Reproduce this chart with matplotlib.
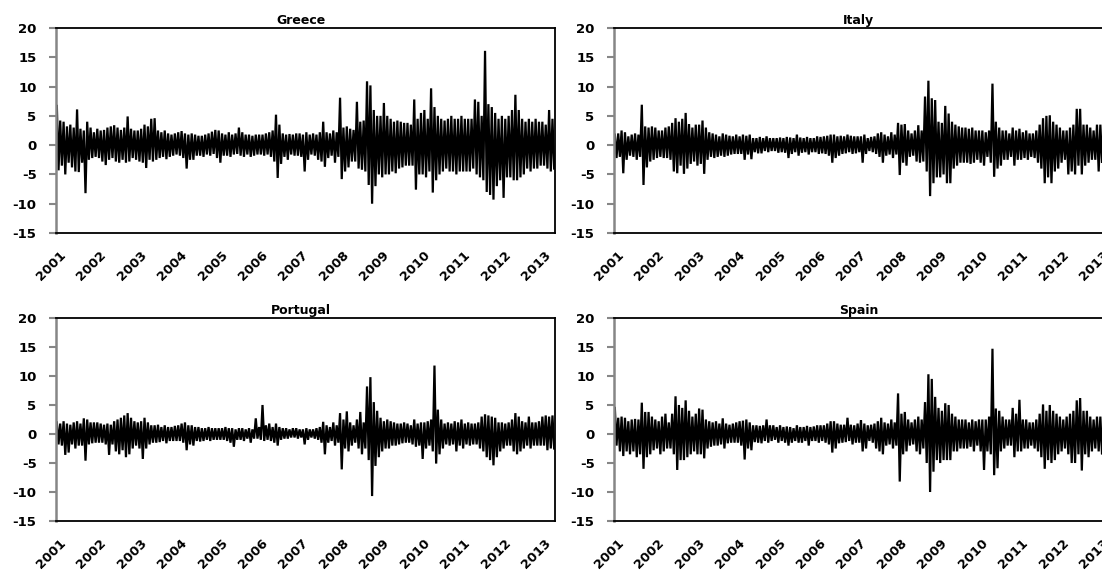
import numpy as np
import matplotlib
matplotlib.use('Agg')
import matplotlib.pyplot as plt
from matplotlib.transforms import ScaledTranslation

# monthly high / low of the daily returns, Jan 2001 .. Apr 2013
start_year = 2001
year_ticks = list(range(2001, 2014))
countries = ['Greece', 'Italy', 'Portugal', 'Spain']

greece_hi = [
    6.7, 4.2, 4.0, 3.2, 3.5, 3.0, 6.1, 2.8, 2.5, 4.0, 3.0, 2.2,   # 2001
    2.8, 2.5, 2.6, 3.0, 3.2, 3.4, 3.0, 2.6, 3.0, 4.9, 2.8, 2.5,   # 2002
    2.5, 2.8, 3.5, 3.2, 4.5, 4.6, 2.5, 2.2, 2.5, 2.0, 1.8, 2.0,   # 2003
    2.2, 2.4, 2.0, 1.8, 2.0, 1.8, 1.6, 1.6, 1.8, 2.0, 2.3, 2.6,   # 2004
    2.5, 2.0, 1.8, 2.2, 1.8, 2.0, 3.0, 2.2, 1.8, 1.8, 1.6, 1.8,   # 2005
    1.8, 1.8, 2.0, 2.2, 2.5, 5.2, 3.5, 2.0, 1.8, 1.9, 1.8, 2.0,   # 2006
    2.0, 1.8, 2.2, 1.8, 2.0, 1.8, 2.2, 4.0, 2.2, 2.0, 2.5, 2.2,   # 2007
    8.1, 3.0, 3.2, 2.8, 2.6, 7.4, 4.0, 4.2, 10.9, 10.2, 6.0, 5.0, # 2008
    5.0, 7.2, 5.0, 4.5, 4.0, 4.2, 4.0, 3.8, 3.8, 3.5, 7.8, 4.5,   # 2009
    5.5, 6.0, 4.5, 9.7, 6.5, 5.0, 4.5, 4.2, 4.5, 5.0, 4.5, 4.5,   # 2010
    5.0, 4.5, 4.5, 4.5, 7.8, 7.4, 5.0, 16.1, 7.0, 6.5, 5.5, 4.5,  # 2011
    5.0, 4.5, 5.0, 6.0, 8.6, 6.0, 4.5, 4.0, 4.5, 4.0, 4.5, 4.0,   # 2012
    4.0, 3.5, 6.0, 4.5,                                           # 2013
]
greece_lo = [
    -4.3, -3.5, -5.0, -3.0, -3.8, -4.5, -4.6, -3.0, -8.2, -2.5, -2.2, -2.0,
    -2.2, -2.8, -3.4, -2.5, -2.2, -2.8, -3.0, -2.5, -3.0, -2.8, -2.2, -2.5,
    -2.8, -3.0, -3.9, -2.5, -2.8, -2.5, -2.2, -2.0, -2.4, -2.0, -1.8, -1.6,
    -1.8, -2.2, -4.0, -2.5, -2.5, -1.8, -1.8, -2.0, -1.6, -1.8, -1.5, -2.2,
    -3.0, -1.8, -1.8, -2.0, -1.6, -1.5, -1.8, -2.0, -1.6, -2.0, -1.8, -1.6,
    -1.6, -1.8, -1.6, -2.0, -2.8, -5.6, -3.2, -2.0, -2.5, -1.6, -1.8, -1.8,
    -2.0, -4.5, -2.5, -1.6, -1.8, -2.5, -2.8, -3.7, -2.2, -1.8, -3.0, -2.0,
    -5.8, -4.5, -3.8, -2.8, -2.8, -4.0, -4.2, -4.5, -6.8, -10.0, -7.0, -5.0,
    -5.5, -5.0, -5.0, -4.5, -4.8, -4.0, -3.8, -3.5, -3.5, -3.5, -7.6, -5.0,
    -5.0, -5.5, -4.5, -8.1, -6.0, -5.0, -4.5, -4.0, -4.5, -4.5, -5.0, -4.5,
    -4.5, -4.5, -4.5, -4.0, -5.0, -5.5, -6.0, -8.0, -8.5, -9.3, -7.0, -6.0,
    -9.0, -5.5, -5.5, -6.0, -6.0, -5.5, -5.0, -4.0, -4.5, -4.0, -4.0, -3.5,
    -3.5, -4.0, -4.5, -4.0,
]

italy_hi = [
    1.8, 2.0, 2.5, 2.2, 1.5, 1.8, 2.0, 1.8, 6.9, 3.2, 3.0, 3.2,
    3.0, 2.5, 2.5, 3.0, 3.2, 3.8, 4.6, 4.0, 4.5, 5.5, 3.6, 3.0,
    3.5, 3.5, 4.2, 3.0, 2.2, 2.0, 1.8, 1.5, 2.0, 1.8, 1.6, 1.5,
    1.8, 1.5, 1.8, 1.6, 1.8, 1.2, 1.2, 1.4, 1.2, 1.5, 1.2, 1.2,
    1.2, 1.3, 1.2, 1.4, 1.3, 1.2, 1.8, 1.3, 1.2, 1.4, 1.2, 1.2,
    1.5, 1.4, 1.5, 1.6, 1.8, 1.8, 1.5, 1.6, 1.5, 1.8, 1.6, 1.5,
    1.5, 1.5, 1.8, 1.2, 1.4, 1.5, 2.0, 2.2, 1.8, 1.5, 2.2, 1.8,
    3.8, 3.5, 3.6, 2.5, 2.0, 2.5, 3.4, 2.5, 8.3, 11.0, 8.0, 7.7,
    4.0, 3.8, 6.7, 5.4, 4.0, 3.5, 3.2, 3.0, 3.0, 2.8, 3.0, 2.5,
    2.5, 2.5, 2.2, 2.5, 10.5, 4.0, 3.0, 2.5, 2.5, 2.0, 3.0, 2.5,
    2.8, 2.2, 2.5, 2.0, 2.0, 2.5, 3.5, 4.6, 5.0, 5.1, 4.0, 3.5,
    3.0, 2.5, 2.5, 3.0, 3.5, 6.2, 6.2, 3.5, 3.5, 3.0, 2.5, 3.5,
    3.5, 3.0, 3.0, 2.5,
]
italy_lo = [
    -2.2, -2.0, -4.8, -2.5, -1.8, -2.0, -2.5, -2.0, -6.8, -3.8, -2.8, -2.5,
    -2.2, -2.0, -2.2, -2.2, -2.5, -4.5, -4.8, -3.5, -4.9, -4.0, -3.2, -2.8,
    -3.5, -3.2, -4.9, -2.5, -2.0, -2.2, -2.0, -1.8, -2.0, -1.8, -1.6, -1.5,
    -1.5, -1.5, -2.5, -1.6, -2.4, -1.2, -1.4, -1.4, -1.0, -1.2, -1.0, -1.0,
    -1.3, -1.2, -1.3, -2.2, -1.5, -1.2, -1.8, -1.3, -1.2, -1.6, -1.2, -1.2,
    -1.5, -1.4, -1.5, -1.8, -3.0, -2.2, -1.8, -1.5, -1.4, -1.2, -1.5, -1.4,
    -1.2, -3.0, -1.5, -1.0, -1.2, -1.5, -2.0, -3.0, -1.8, -1.6, -2.2, -1.6,
    -5.1, -3.0, -3.5, -2.0, -1.8, -2.8, -3.0, -2.8, -4.5, -8.7, -6.5, -5.5,
    -5.5, -5.0, -6.5, -6.5, -4.0, -3.5, -3.0, -3.0, -3.0, -3.2, -3.0, -2.5,
    -3.0, -3.5, -2.0, -3.0, -5.4, -4.0, -3.5, -2.5, -2.5, -2.0, -3.5, -2.5,
    -2.5, -2.2, -2.5, -2.0, -2.2, -3.0, -4.0, -6.5, -5.5, -6.5, -4.5, -4.0,
    -3.0, -2.5, -5.0, -4.5, -5.0, -3.5, -5.0, -3.5, -3.0, -2.5, -2.5, -4.5,
    -3.0, -4.0, -3.0, -2.5,
]

portugal_hi = [
    2.0, 1.8, 2.2, 1.8, 1.6, 2.0, 2.2, 1.8, 2.7, 2.5, 2.0, 2.0,
    2.0, 1.8, 1.6, 1.8, 1.6, 2.2, 2.5, 2.8, 3.2, 3.6, 2.8, 2.2,
    2.0, 2.2, 2.8, 2.0, 1.5, 1.5, 1.6, 1.2, 1.5, 1.2, 1.2, 1.4,
    1.5, 1.8, 2.0, 1.5, 1.5, 1.2, 1.2, 1.0, 1.0, 1.2, 1.0, 1.0,
    1.0, 1.0, 1.2, 1.0, 1.0, 0.8, 1.0, 1.0, 0.8, 1.0, 0.8, 2.7,
    1.2, 5.0, 1.5, 1.8, 1.2, 1.8, 1.2, 1.0, 1.0, 0.8, 1.0, 1.0,
    0.8, 0.8, 1.0, 0.8, 0.8, 1.0, 1.2, 2.1, 1.5, 1.2, 2.0, 1.5,
    3.6, 2.5, 3.9, 2.0, 1.5, 2.5, 3.8, 2.0, 8.2, 9.8, 5.5, 4.0,
    2.8, 2.2, 2.5, 2.2, 2.0, 1.8, 1.8, 2.0, 1.8, 1.5, 2.5, 1.8,
    2.0, 2.0, 2.2, 2.5, 11.8, 4.2, 2.5, 1.8, 2.0, 1.8, 2.2, 2.0,
    2.5, 1.8, 2.0, 1.8, 1.8, 2.0, 3.0, 3.4, 3.2, 3.0, 2.8, 2.0,
    2.0, 1.8, 2.0, 2.5, 3.6, 3.0, 2.2, 2.0, 3.0, 2.0, 2.0, 2.2,
    3.0, 3.2, 3.0, 3.2,
]
portugal_lo = [
    -1.8, -2.0, -3.6, -3.2, -1.8, -2.5, -2.0, -2.0, -4.6, -1.8, -1.6, -1.5,
    -1.5, -1.5, -1.8, -3.6, -1.8, -3.0, -3.5, -2.8, -4.0, -3.5, -2.5, -2.0,
    -2.5, -4.3, -2.5, -1.8, -1.5, -1.5, -1.4, -1.2, -1.6, -1.2, -1.2, -1.2,
    -1.2, -1.5, -2.8, -1.8, -2.0, -1.2, -1.3, -1.2, -1.0, -1.2, -1.0, -1.0,
    -1.0, -1.0, -1.2, -1.5, -2.2, -1.0, -1.0, -1.2, -0.8, -1.5, -0.8, -0.8,
    -1.0, -1.2, -1.0, -1.2, -1.5, -2.0, -1.0, -0.8, -0.8, -0.6, -0.6, -0.8,
    -0.6, -1.8, -1.0, -0.6, -0.8, -1.0, -1.5, -3.5, -1.5, -1.2, -2.0, -1.5,
    -6.1, -2.5, -3.0, -2.0, -1.5, -2.5, -3.5, -2.5, -4.5, -10.7, -5.5, -4.0,
    -3.0, -2.5, -2.5, -2.0, -2.0, -1.8, -1.6, -1.5, -1.5, -1.8, -2.2, -2.0,
    -4.3, -2.5, -2.0, -3.0, -5.1, -3.5, -2.5, -1.8, -2.0, -1.8, -3.0, -2.0,
    -2.5, -1.8, -2.0, -1.8, -1.8, -2.5, -3.0, -4.0, -4.5, -5.4, -4.0, -3.0,
    -2.5, -2.0, -2.0, -3.0, -3.5, -3.0, -2.5, -2.0, -2.5, -2.0, -2.0, -2.0,
    -2.0, -2.8, -2.5, -2.5,
]

spain_hi = [
    4.5, 2.8, 3.0, 2.8, 2.2, 2.5, 2.6, 2.5, 5.4, 3.8, 3.8, 3.0,
    2.5, 2.2, 3.0, 3.5, 2.0, 3.5, 6.5, 5.0, 4.5, 5.8, 4.0, 3.0,
    3.5, 4.4, 4.2, 2.5, 2.2, 2.0, 2.2, 1.8, 2.7, 1.8, 1.6, 1.8,
    2.0, 2.2, 2.3, 2.5, 2.0, 1.5, 1.5, 1.4, 1.5, 2.5, 1.5, 1.5,
    1.2, 1.5, 1.2, 1.3, 1.2, 1.0, 1.5, 1.2, 1.2, 1.4, 1.2, 1.3,
    1.5, 1.5, 1.5, 1.8, 2.2, 2.2, 1.8, 1.6, 1.6, 2.8, 1.6, 1.5,
    1.8, 2.4, 1.8, 1.5, 1.6, 1.8, 2.2, 2.8, 2.0, 1.8, 2.5, 2.0,
    7.0, 3.5, 3.8, 2.5, 2.0, 2.5, 3.0, 2.5, 5.5, 10.3, 9.5, 6.4,
    4.5, 4.0, 5.3, 5.0, 3.5, 3.0, 2.5, 2.5, 2.5, 2.0, 2.5, 2.2,
    2.5, 2.5, 2.5, 3.0, 14.7, 4.4, 4.0, 3.0, 2.5, 2.5, 4.5, 3.5,
    5.9, 2.5, 2.5, 2.0, 2.0, 2.5, 3.5, 5.1, 4.0, 5.0, 4.0, 3.5,
    3.0, 2.5, 3.0, 3.5, 4.0, 5.8, 6.2, 4.0, 4.0, 3.0, 2.5, 3.0,
    3.0, 3.5, 3.0, 2.5,
]
spain_lo = [
    -2.0, -3.0, -3.8, -3.0, -3.5, -3.0, -4.0, -3.5, -6.0, -4.0, -3.5, -2.8,
    -2.5, -3.5, -3.0, -2.5, -2.5, -3.5, -6.2, -4.5, -4.5, -4.0, -3.5, -3.0,
    -3.5, -3.5, -4.2, -2.5, -2.2, -2.0, -2.0, -1.8, -2.5, -1.6, -1.5, -1.5,
    -1.5, -2.0, -4.4, -2.5, -2.8, -1.4, -1.5, -1.6, -1.2, -1.5, -1.2, -1.0,
    -1.5, -1.2, -1.5, -2.0, -1.5, -1.2, -1.5, -1.5, -1.2, -2.0, -1.2, -1.2,
    -1.5, -1.2, -1.5, -1.8, -3.2, -2.5, -1.6, -1.5, -1.4, -1.2, -1.8, -1.5,
    -1.5, -3.0, -2.5, -1.2, -1.5, -2.5, -3.0, -3.5, -2.0, -1.8, -2.5, -2.0,
    -8.2, -3.5, -3.0, -2.0, -1.8, -3.0, -3.5, -2.5, -5.0, -10.0, -6.5, -4.5,
    -5.0, -4.5, -4.5, -4.5, -3.0, -3.0, -2.5, -2.5, -2.5, -2.2, -3.0, -2.0,
    -3.0, -6.2, -3.0, -3.5, -7.1, -5.9, -3.0, -2.5, -2.0, -2.0, -4.0, -3.0,
    -3.0, -2.5, -2.5, -2.0, -2.5, -3.0, -4.0, -6.0, -4.5, -5.0, -4.5, -3.5,
    -3.0, -2.5, -3.5, -5.0, -5.0, -3.5, -6.3, -3.5, -4.0, -3.0, -2.5, -3.0,
    -3.5, -4.0, -3.0, -2.5,
]

highs = [greece_hi, italy_hi, portugal_hi, spain_hi]
lows = [greece_lo, italy_lo, portugal_lo, spain_lo]


def zigzag(hi, lo):
    # one up-stroke and one down-stroke per month
    n = len(hi)
    x = np.empty(2 * n)
    y = np.empty(2 * n)
    idx = np.arange(n)
    x[0::2] = start_year + (idx + 0.25) / 12.0
    x[1::2] = start_year + (idx + 0.75) / 12.0
    y[0::2] = hi
    y[1::2] = lo
    return x, y


W, H = 1102, 570
fig = plt.figure(figsize=(W / 100.0, H / 100.0), dpi=100)
plt.rcParams['font.family'] = ['DejaVu Sans']

# axes boxes in pixels: left, top, width, height
boxes = [(56, 28, 499, 205), (614, 28, 499, 205),
         (56, 318, 499, 203), (614, 318, 499, 203)]

for k in range(4):
    l, t, w, h = boxes[k]
    ax = fig.add_axes([l / W, 1 - (t + h) / H, w / W, h / H])
    x, y = zigzag(highs[k], lows[k])
    ax.plot(x, y, color='black', lw=1.6, solid_joinstyle='miter')
    ax.set_xlim(start_year, start_year + len(highs[k]) / 12.0)
    ax.set_ylim(-15, 20)
    ax.set_yticks(range(-15, 21, 5))
    ax.set_yticklabels([str(v) for v in range(-15, 21, 5)],
                       fontsize=9.5, fontweight='bold')
    ax.set_xticks(year_ticks)
    ax.set_xticklabels([str(v) for v in year_ticks], rotation=45,
                       ha='right', va='top', rotation_mode='anchor',
                       fontsize=9.3, fontweight='bold')
    ax.tick_params(axis='x', length=0, pad=11)
    ax.tick_params(axis='y', length=5, width=1.5, color='#868686', pad=9)
    shift = ScaledTranslation(3 / 100.0, 0, fig.dpi_scale_trans)
    for lbl in ax.get_xticklabels():
        lbl.set_transform(lbl.get_transform() + shift)
    for s in ['top', 'right', 'bottom']:
        ax.spines[s].set_color('black')
        ax.spines[s].set_linewidth(1.3)
    ax.spines['left'].set_color('#868686')
    ax.spines['left'].set_linewidth(1.8)
    ax.text(0.49, 1.005, countries[k], transform=ax.transAxes,
            ha='center', va='bottom', fontsize=9, fontweight='bold')

fig.savefig('out.png', dpi=100)
